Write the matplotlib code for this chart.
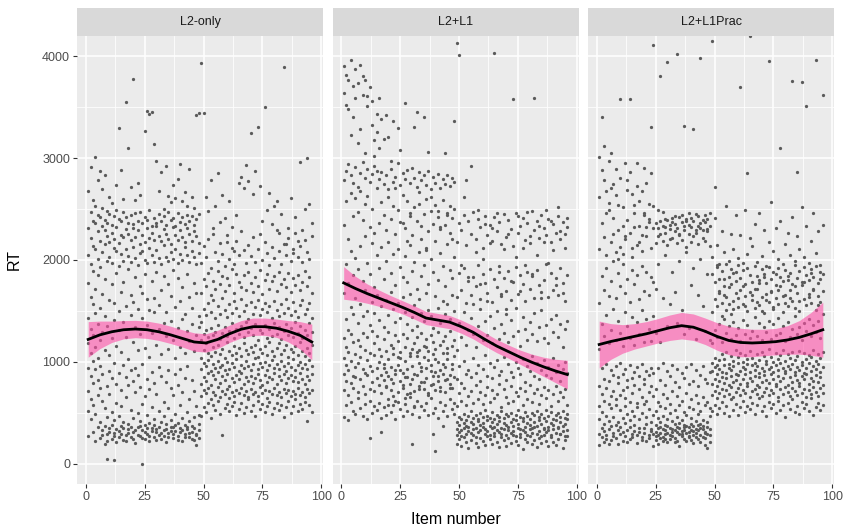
import numpy as np
import matplotlib
matplotlib.use("Agg")
import matplotlib.pyplot as plt
from matplotlib.ticker import MultipleLocator

plt.rcParams['font.family'] = ['Liberation Sans', 'DejaVu Sans']

panels = ["L2-only", "L2+L1", "L2+L1Prac"]

# RT per item (items 1..96), values in tens of ms
rt_l2only = [
    "27 52 71 94 118 143 177 205 231 268", "44 63 86 109 132 164 196 222 247 291",
    "31 58 79 101 126 157 189 214 238 259", "22 49 93 115 148 172 211 236 253 301",
    "36 67 82 104 137 185 201 228 244 279", "25 41 74 96 121 153 193 219 242 287",
    "33 28 62 88 129 167 208 233 251 270", "19 37 55 112 145 181 216 229 239 283",
    "29 22 46 76 135 199 224 236 248 5", "35 31 68 91 107 161 203 218 245 262",
    "24 38 51 84 123 176 197 227 234 256", "30 27 43 99 141 158 212 221 243 4",
    "21 34 60 78 116 187 209 232 249 274", "32 26 47 89 131 150 194 217 240 330",
    "37 29 57 72 110 169 206 225 238 288", "23 35 41 97 139 178 199 223 247 260",
    "28 22 65 85 124 155 211 230 242 355", "34 30 39 77 103 191 204 226 236 310",
    "26 36 53 92 146 166 198 220 244 272", "31 24 45 81 119 159 213 235 231 378",
    "20 33 70 94 134 183 202 223 246 259", "36 28 50 87 112 152 195 229 238 276",
    "27 37 42 75 127 174 207 216 247 264", "33 25 59 98 143 168 209 225 236 0",
    "24 31 38 66 114 186 200 218 242 327", "29 35 48 83 136 162 197 231 239 346",
    "22 27 40 73 105 151 212 222 249 343", "35 32 56 90 128 179 205 227 233 345",
    "26 38 44 79 149 163 198 220 241 314", "31 23 34 68 117 188 210 233 236 297",
    "28 36 52 95 132 156 202 224 245 268", "24 30 41 86 108 171 196 219 238 286",
    "33 27 47 61 138 184 215 230 243 250", "21 34 39 80 125 149 203 226 234 292",
    "30 26 55 92 113 176 199 221 247 263", "36 32 43 74 140 165 208 216 239 257",
    "25 29 36 67 121 190 201 232 241 274", "32 38 49 88 104 154 211 225 233 261",
    "27 23 40 77 133 182 197 220 246 280", "35 31 58 93 115 160 206 229 237 294",
    "22 33 45 70 142 173 200 223 242 258", "29 26 38 84 109 147 213 218 235 267",
    "34 36 51 96 130 186 205 231 244 253", "26 30 42 63 120 164 198 226 238 289",
    "31 24 37 82 137 153 209 219 243 262", "23 35 46 71 111 177 203 228 234 251",
    "29 28 18 57 126 168 196 224 240 342", "33 25 39 48 134 145 207 217 245 344",
    "47 66 78 93 104 121 139 168 197 393", "56 72 85 99 112 127 152 181 214 344",
    "51 69 81 96 118 131 146 174 203 262", "60 74 89 102 109 124 158 187 221 248",
    "45 63 77 91 106 133 149 166 192 279", "58 70 87 98 115 126 161 179 231 226",
    "53 67 83 94 110 129 143 172 208 253", "62 75 90 101 117 136 155 189 199 285",
    "49 65 79 95 108 122 147 176 217 237", "28 71 86 97 113 128 163 184 206 264",
    "55 68 82 92 104 134 151 170 194 241", "59 73 88 100 119 125 144 182 225 218",
    "52 64 76 93 111 130 157 175 201 258", "57 70 84 99 107 138 148 191 212 232",
    "61 66 80 95 116 123 160 168 196 209", "48 72 87 103 109 132 153 186 219 244",
    "54 69 83 91 114 127 145 178 205 276", "60 74 89 97 106 135 162 173 228 282",
    "50 67 78 94 118 124 150 185 210 271", "56 71 85 101 112 139 156 171 197 293",
    "63 65 81 96 108 129 142 188 215 278", "52 73 86 92 115 133 159 177 204 325",
    "58 68 79 98 110 126 147 169 223 265", "47 70 84 104 117 137 154 183 198 287",
    "62 66 88 93 105 121 161 174 211 331", "54 75 82 99 113 131 146 190 226 273",
    "59 69 77 95 109 128 152 167 200 238", "51 72 87 100 116 136 158 180 218 350",
    "57 64 80 92 107 123 149 186 207 249", "61 71 85 97 119 132 155 172 195 266",
    "49 68 83 102 111 125 143 179 213 235", "55 74 89 94 106 138 160 184 202 253",
    "60 67 78 98 114 127 151 170 229 258", "53 70 86 93 118 134 145 188 209 227",
    "58 65 82 101 108 122 157 176 196 245", "46 73 88 96 112 130 148 181 216 390",
    "56 69 79 91 117 137 162 173 205 216", "62 72 84 99 105 126 153 187 222 231",
    "50 66 87 95 113 133 146 169 199 261", "57 71 81 103 110 124 159 182 211 207",
    "63 68 85 92 116 139 150 175 227 242", "52 74 80 97 107 128 144 185 203 219",
    "59 67 89 100 119 135 156 171 214 296", "54 70 83 94 111 123 161 178 198 229",
    "61 65 78 98 106 131 147 189 220 250", "42 73 86 93 114 126 152 174 208 300",
    "58 69 82 102 109 138 158 183 201 255", "51 72 88 96 117 129 143 168 224 236",
]

rt_l2l1 = [
    "46 72 88 104 123 168 234 279 364 391", "58 81 97 115 142 196 258 287 382 352",
    "43 67 92 110 131 177 221 294 348 377", "61 79 101 127 154 209 266 283 396 323",
    "52 74 86 119 147 185 243 276 371 340", "49 85 95 108 163 202 261 291 359 388",
    "64 70 99 121 138 191 247 272 374 315", "55 83 105 116 157 214 268 285 392 329",
    "47 76 93 128 145 179 239 296 362 381", "59 68 89 112 171 224 255 281 377 305",
    "44 87 102 124 150 197 263 289 351 361", "62 73 96 109 136 186 232 277 370 25",
    "50 80 91 130 159 217 250 284 356 333", "57 71 107 118 148 173 227 292 318 302",
    "53 84 94 125 166 205 271 287 343 326", "60 77 100 113 141 192 236 280 359 310",
    "45 69 87 106 155 213 257 286 31 338", "56 82 98 122 134 181 244 275 94 319",
    "48 75 90 111 161 199 229 283 76 342", "63 86 103 129 146 218 262 270 58 321",
    "51 72 95 117 169 187 240 289 83 297", "58 79 108 114 152 206 253 277 66 337",
    "44 88 92 126 139 175 226 282 62 271", "61 70 97 120 158 211 249 295 105 330",
    "54 81 104 110 143 193 237 274 92 308", "47 74 89 127 164 183 264 285 77 236",
    "59 85 101 115 149 204 231 280 64 354", "52 68 93 123 137 178 258 288 85 219",
    "65 78 106 109 167 215 243 276 69 246", "49 83 96 131 144 189 225 290 113 19",
    "56 71 88 118 156 198 252 281 57 331", "62 87 110 124 135 172 238 272 106 345",
    "46 76 99 112 162 208 267 286 73 255", "57 80 91 128 148 184 233 279 95 221",
    "53 73 105 116 140 195 245 283 80 340", "60 84 94 122 168 210 260 274 115 212",
    "48 69 102 111 151 176 228 287 67 306", "64 77 97 126 145 201 248 270 91 262",
    "50 86 108 119 133 188 235 282 78 29", "55 72 90 113 165 219 254 276 103 12",
    "45 81 100 129 153 180 242 284 86 248", "61 75 92 117 138 207 230 271 71 232",
    "52 88 109 120 160 194 259 280 98 37", "58 70 95 125 147 174 234 275 82 305",
    "47 83 103 114 157 216 246 283 109 244", "63 78 87 130 142 190 227 273 74 253",
    "54 74 98 116 166 182 241 281 93 221", "49 85 106 121 150 203 250 277 60 337",
    "19 28 34 41 57 83 112 164 218 413", "24 31 38 46 69 96 138 187 236 401",
    "17 27 33 44 62 79 124 171 229 195", "26 35 40 49 74 101 149 192 244 262",
    "21 29 37 43 58 88 117 158 215 279", "15 32 36 47 66 92 131 179 238 183",
    "23 30 41 52 71 85 143 166 226 292", "28 34 39 45 60 104 127 183 247 157",
    "20 26 35 48 77 89 115 174 221 208", "16 31 42 44 63 97 135 195 240 249",
    "25 33 38 50 70 81 152 162 232 176", "22 36 40 46 59 93 121 186 212 201",
    "18 29 34 53 67 107 140 177 243 235", "27 32 43 47 75 86 126 168 225 160",
    "24 28 37 45 61 99 145 191 234 217", "19 35 41 51 72 84 118 159 219 231",
    "30 27 36 44 64 95 133 181 242 403", "21 33 39 48 68 102 150 173 228 246",
    "16 31 42 46 78 87 122 194 237 188", "26 29 35 52 56 91 137 165 216 167",
    "23 34 40 45 73 105 128 182 245 211", "17 28 38 49 65 82 147 170 223 152",
    "25 36 33 47 60 98 119 189 239 226", "20 30 41 50 76 90 141 161 230 179",
    "28 32 37 44 62 85 125 178 214 358", "22 27 43 48 70 100 153 193 246 203",
    "18 35 39 53 66 94 130 167 227 243", "26 29 34 46 74 88 116 185 233 170",
    "14 33 42 45 58 103 144 176 241 212", "24 31 36 51 71 80 132 160 220 195",
    "21 28 40 47 63 96 121 188 236 247", "27 34 38 44 77 91 139 172 217 224",
    "19 30 35 50 61 106 127 184 248 186", "23 36 41 48 69 86 148 163 229 359",
    "16 29 37 52 73 99 120 190 238 205", "25 32 43 46 59 83 134 175 222 233",
    "20 27 39 49 67 92 151 169 244 163", "28 35 34 45 75 102 123 180 231 218",
    "22 31 42 53 64 87 136 196 225 249", "17 33 36 47 72 95 118 164 240 197",
    "26 28 40 51 57 84 142 187 218 238", "21 34 38 44 68 104 129 171 235 210",
    "18 30 43 48 76 90 146 182 227 175", "24 36 35 50 62 97 124 166 243 252",
    "29 29 41 46 70 81 137 192 221 228", "15 32 37 52 65 93 115 177 237 168",
    "23 27 39 45 73 100 132 160 226 212", "27 33 44 49 58 89 140 185 232 241",
]

rt_l2l1prac = [
    "18 29 44 57 76 113 158 211 262 301", "26 35 51 68 94 137 184 236 288 340",
    "21 32 39 62 83 125 171 223 279 312", "28 24 47 74 98 146 192 205 246 268",
    "34 19 42 59 81 118 165 249 297 256", "23 37 55 66 92 131 179 218 271 305",
    "30 27 46 71 87 152 199 241 275 226", "25 38 58 63 96 121 163 208 289 264",
    "19 33 41 79 85 140 187 229 254 201", "36 29 53 67 99 128 174 213 281 358",
    "22 31 45 72 88 116 196 252 233 206", "27 40 57 64 93 149 168 221 295 224",
    "33 21 49 75 82 135 181 239 269 279", "24 36 43 61 97 123 159 227 286 358",
    "29 26 52 69 84 144 190 203 265 212", "38 32 47 77 90 117 176 246 232 254",
    "20 28 56 60 95 139 185 215 273 295", "31 35 44 73 86 127 162 233 258 218",
    "26 23 50 65 98 151 194 209 268 225", "35 30 59 78 83 119 170 244 290 246",
    "22 39 46 62 91 142 188 224 276 232", "28 25 54 70 87 132 166 237 255 240",
    "32 34 41 76 94 120 183 212 285 331", "17 29 48 66 89 145 178 231 253 411",
    "23 31 38 27 52 73 128 172 217 236", "19 28 35 45 61 94 196 224 231 249",
    "30 25 41 36 57 82 119 226 238 381", "26 34 22 47 68 99 163 219 233 247",
    "33 29 38 24 55 77 205 232 227 240", "21 37 30 44 64 91 135 215 239 394",
    "28 24 35 50 59 86 157 230 234 221", "34 31 27 42 71 97 188 222 241 237",
    "25 39 33 21 53 80 169 228 235 243", "31 22 36 46 66 93 138 217 231 402",
    "17 35 29 40 58 75 199 225 242 226", "29 27 43 32 62 89 151 220 237 244",
    "36 33 24 38 51 84 127 229 233 332", "22 30 37 48 69 95 208 213 240 238",
    "27 36 31 26 56 78 133 226 246 234", "33 23 39 45 63 98 175 218 232 241",
    "20 32 28 37 54 81 192 224 238 329", "30 26 42 34 67 92 122 227 229 245",
    "24 38 33 49 60 76 166 216 243 233", "35 28 21 39 52 87 201 231 236 398",
    "26 34 37 43 65 96 155 222 239 229", "31 25 30 18 58 83 130 219 244 237",
    "15 29 36 41 61 79 186 228 230 240", "28 21 34 47 55 90 121 214 233 246",
    "52 67 78 91 99 118 149 186 203 415", "58 71 83 95 104 131 162 178 241 272",
    "49 64 76 88 97 124 155 193 215 195", "55 69 81 93 102 137 170 181 196 168",
    "61 73 85 90 108 119 158 189 228 145", "50 66 79 97 103 142 166 174 208 181",
    "57 72 84 89 110 128 151 196 253 164", "47 68 77 94 98 135 173 183 199 157",
    "63 75 86 92 106 122 147 191 226 176", "53 65 80 96 101 139 160 187 211 152",
    "59 70 82 88 112 126 168 179 244 188", "48 74 87 99 105 133 154 195 202 163",
    "56 67 78 91 109 120 171 182 225 370", "62 72 83 95 100 141 157 190 197 174",
    "51 69 88 93 107 127 165 176 249 155", "57 76 79 98 103 136 150 192 206 285",
    "54 65 84 90 111 123 169 185 222 420", "60 71 81 97 104 130 161 178 214 166",
    "49 73 86 92 99 144 153 194 235 172", "58 68 77 96 108 125 172 184 198 159",
    "64 75 85 89 102 138 156 180 246 177", "52 66 80 94 110 121 164 191 204 150",
    "57 70 87 91 106 134 148 186 229 183", "47 74 82 98 101 129 167 177 194 161",
    "61 67 79 93 113 140 159 193 218 395", "55 72 88 95 105 122 170 181 257 169",
    "59 69 83 90 100 137 152 188 209 154", "50 76 78 97 109 126 163 175 231 186",
    "62 65 86 92 103 143 157 192 201 171", "53 73 81 99 107 128 174 183 238 310",
    "58 68 84 94 112 135 149 179 196 165", "46 75 89 91 101 120 166 190 216 158",
    "60 70 77 96 108 139 155 184 227 180", "54 66 85 93 104 124 171 187 205 163",
    "63 74 80 98 110 132 160 176 242 376", "51 71 87 90 102 145 153 195 199 174",
    "57 67 82 95 106 127 168 182 224 286", "49 76 79 92 111 134 150 189 211 160",
    "61 69 86 97 100 121 175 178 252 375", "55 73 83 89 109 138 162 193 203 178",
    "59 65 88 94 103 130 156 185 233 351", "52 72 78 99 107 142 167 180 197 164",
    "64 68 84 91 105 125 158 191 219 187", "48 75 81 96 112 136 172 183 246 171",
    "56 70 87 93 101 129 151 194 207 396", "60 66 80 98 108 140 165 177 228 156",
    "53 74 85 90 104 123 159 188 195 181", "58 69 77 95 110 147 170 186 234 362",
]

# loess fit and half-width of its 95% band, read at these items
smooth_items = [1, 6, 11, 16, 21, 26, 31, 36, 41, 46, 51, 56, 61, 66, 71, 76, 81, 86, 91, 96]
fit_l2only = [1220, 1265, 1295, 1315, 1322, 1315, 1295, 1265, 1230, 1195,
              1185, 1220, 1275, 1320, 1345, 1345, 1330, 1300, 1260, 1195]
band_l2only = [175, 135, 105, 90, 85, 85, 85, 85, 85, 90,
               90, 90, 85, 85, 85, 85, 90, 105, 135, 175]
fit_l2l1 = [1775, 1720, 1670, 1625, 1580, 1535, 1485, 1430, 1410, 1390,
            1345, 1290, 1220, 1155, 1100, 1045, 995, 950, 910, 875]
band_l2l1 = [160, 120, 95, 80, 70, 65, 65, 65, 65, 65,
             65, 65, 65, 65, 65, 70, 80, 95, 115, 140]
fit_l2l1prac = [1170, 1200, 1225, 1250, 1275, 1305, 1335, 1355, 1340, 1300,
                1250, 1210, 1190, 1185, 1190, 1198, 1215, 1240, 1275, 1315]
band_l2l1prac = [230, 175, 140, 125, 120, 120, 125, 130, 130, 130,
                 135, 140, 140, 135, 130, 130, 140, 165, 210, 270]

data = [rt_l2only, rt_l2l1, rt_l2l1prac]
fits = [fit_l2only, fit_l2l1, fit_l2l1prac]
bands = [band_l2only, band_l2l1, band_l2l1prac]

W, H = 846, 532
fig = plt.figure(figsize=(W / 100, H / 100), dpi=100)
fig.patch.set_facecolor('white')

lefts = [77, 332.5, 588]
pw = 246
p_bottom, p_top = 484, 36

for k, name in enumerate(panels):
    xs, ys = [], []
    for item, row in enumerate(data[k], start=1):
        vals = [int(v) * 10 for v in row.split()]
        xs += [item] * len(vals)
        ys += vals
    fit = np.array(fits[k])
    band = np.array(bands[k])

    ax = fig.add_axes([lefts[k] / W, 1 - p_bottom / H, pw / W, (p_bottom - p_top) / H])
    ax.set_facecolor('#EBEBEB')
    ax.scatter(xs, ys, s=5.5, color='#5A5A5A', linewidths=0, zorder=2)
    ax.fill_between(smooth_items, fit - band, fit + band, color='#FF4FA7', alpha=0.6,
                    linewidth=0, zorder=3)
    ax.plot(smooth_items, fit, color='black', lw=2, zorder=4)

    ax.set_xlim(-3.75, 100.75)
    ax.set_ylim(-200, 4200)
    ax.xaxis.set_major_locator(MultipleLocator(25))
    ax.xaxis.set_minor_locator(MultipleLocator(12.5))
    ax.yaxis.set_major_locator(MultipleLocator(1000))
    ax.yaxis.set_minor_locator(MultipleLocator(500))
    ax.grid(which='major', color='white', lw=1.1, zorder=0)
    ax.grid(which='minor', color='white', lw=0.55, zorder=0)
    ax.set_axisbelow(True)
    for s in ax.spines.values():
        s.set_visible(False)
    ax.tick_params(which='major', length=3, width=0.8, color='#333333',
                   labelcolor='#4D4D4D', labelsize=9, pad=2)
    ax.tick_params(which='minor', length=0)
    if k > 0:
        ax.tick_params(axis='y', which='both', left=False, labelleft=False)

    sax = fig.add_axes([lefts[k] / W, 1 - p_top / H, pw / W, 28 / H])
    sax.set_facecolor('#D9D9D9')
    sax.set_xticks([])
    sax.set_yticks([])
    for s in sax.spines.values():
        s.set_visible(False)
    sax.text(0.5, 0.5, name, ha='center', va='center', fontsize=9, color='#1A1A1A',
             transform=sax.transAxes)

fig.text((lefts[0] + lefts[2] + pw) / 2 / W, 1 - 520 / H, 'Item number',
         ha='center', va='center', fontsize=11.5, color='black')
fig.text(14 / W, 1 - 260 / H, 'RT', ha='center', va='center', rotation=90,
         fontsize=11.5, color='black')

fig.savefig('out.png', dpi=100)
